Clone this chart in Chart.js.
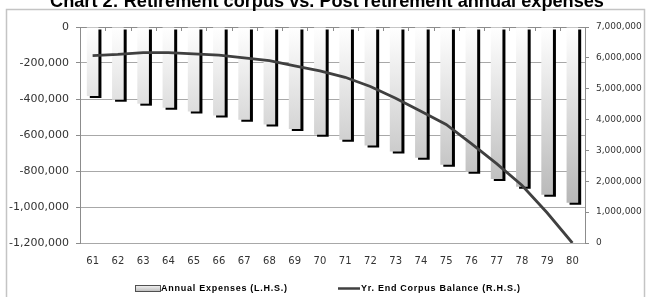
<!DOCTYPE html>
<html><head><meta charset="utf-8">
<script src="https://cdn.jsdelivr.net/npm/chart.js@4.4.0/dist/chart.umd.min.js"></script>
<style>html,body{margin:0;padding:0;background:#fff;overflow:hidden}canvas{display:block}</style>
</head><body>
<canvas id="c" width="648" height="297"></canvas>
<script>
const titleText = "Chart 2: Retirement corpus vs. Post retirement annual expenses";
const ages = ["61","62","63","64","65","66","67","68","69","70","71","72","73","74","75","76","77","78","79","80"];
const annualExpenses = [-384000,-404000,-426000,-448000,-470000,-492000,-515000,-541000,-566000,-598000,-627000,-659000,-692000,-727000,-765000,-804000,-845000,-888000,-932000,-977000];
const corpusBalance = [6070000,6110000,6170000,6170000,6130000,6090000,6000000,5910000,5740000,5580000,5370000,5070000,4690000,4270000,3840000,3220000,2570000,1870000,980000,0];
const seriesLabels = ["Annual Expenses (L.H.S.)","Yr. End Corpus Balance (R.H.S.)"];
const leftAxis = {min:-1200000, max:0, step:200000};
const rightAxis = {min:0, max:7000000, step:1000000};

const fmt = v => Number(v).toLocaleString('en-US');

const decor = {
  id:'decor',
  beforeDatasetsDraw(chart){
    const c = chart.ctx, x = chart.scales.x, a = chart.chartArea;
    c.save();
    c.strokeStyle = '#8c8c8c'; c.lineWidth = 1;
    c.beginPath();
    c.moveTo(a.left, a.top + 0.5); c.lineTo(a.right, a.top + 0.5);
    for (let i = 0; i <= ages.length; i++) {
      const px = Math.round(x.getPixelForValue(i - 0.5)) + 0.5;
      c.moveTo(px, a.top); c.lineTo(px, a.top + 4);
    }
    c.stroke();
    c.restore();
  },
  beforeDatasetDraw(chart, args){
    if (args.index === 0) {
      const c = chart.ctx; c.save();
      c.shadowColor = '#000'; c.shadowOffsetX = 3; c.shadowOffsetY = 2; c.shadowBlur = 0;
    }
  },
  afterDatasetDraw(chart, args){
    if (args.index === 0) chart.ctx.restore();
  },
  afterDraw(chart){
    const c = chart.ctx;
    c.save();
    c.strokeStyle = '#c4c4c4'; c.lineWidth = 1.5;
    c.strokeRect(6.5, 9.5, 638, 300);
    c.fillStyle = '#000';
    c.textAlign = 'center'; c.textBaseline = 'alphabetic';
    let fs = 15;
    c.font = 'bold ' + fs + 'px "Liberation Sans"';
    const w = c.measureText(titleText).width;
    fs = fs * 554 / w;
    c.font = 'bold ' + fs.toFixed(2) + 'px "Liberation Sans"';
    c.fillText(titleText, 327, 6.5);
    const ds = chart.data.datasets;
    c.textAlign = 'left'; c.textBaseline = 'middle';
    const drawSpaced = (txt, x, y, target) => {
      c.font = 'bold 9px "Liberation Sans"';
      c.letterSpacing = '0px';
      const tw = c.measureText(txt).width;
      const ls = (target - tw) / (txt.length - 1);
      c.letterSpacing = ls.toFixed(2) + 'px';
      c.fillStyle = '#000';
      c.fillText(txt, x, y);
      c.letterSpacing = '0px';
    };
    const g = c.createLinearGradient(0, 285, 0, 291);
    g.addColorStop(0, '#f6f6f6'); g.addColorStop(1, '#c0c0c0');
    c.fillStyle = g; c.fillRect(135.5, 285.5, 25, 6);
    c.strokeStyle = '#505050'; c.lineWidth = 1; c.strokeRect(135.5, 285.5, 25, 6);
    drawSpaced(ds[0].label, 161, 288.5, 126);
    c.strokeStyle = '#404040'; c.lineWidth = 2.5;
    c.beginPath(); c.moveTo(338, 288.5); c.lineTo(360, 288.5); c.stroke();
    drawSpaced(ds[1].label, 361, 288.5, 159);
    c.restore();
  }
};

Chart.defaults.font.family = '"DejaVu Sans"';
Chart.defaults.color = '#333';

new Chart(document.getElementById('c'), {
  data: {
    labels: ages,
    datasets: [
      {
        type: 'bar', label: seriesLabels[0], data: annualExpenses, yAxisID: 'y', order: 2,
        backgroundColor(ctx){
          const ch = ctx.chart, a = ch.chartArea;
          if (!a) return '#ccc';
          const g = ch.ctx.createLinearGradient(0, a.top, 0, a.bottom);
          g.addColorStop(0, '#ffffff'); g.addColorStop(1, '#a6a6a6');
          return g;
        },
        borderWidth: 0, barPercentage: 0.46, categoryPercentage: 1
      },
      {
        type: 'line', label: seriesLabels[1], data: corpusBalance, yAxisID: 'y1', order: 1,
        borderColor: '#404040', borderWidth: 2.8, pointRadius: 0, tension: 0, fill: false
      }
    ]
  },
  options: {
    responsive: false, animation: false, devicePixelRatio: 1,
    layout: { padding: { top: 27, left: 0, right: 0, bottom: 0 } },
    plugins: { legend: { display: false }, title: { display: false }, tooltip: { enabled: false } },
    scales: {
      x: {
        grid: { display: false }, border: { display: false },
        ticks: { padding: 4, font: { size: 10 }, maxRotation: 0, autoSkip: false },
        afterFit(s){ s.height = 54; }
      },
      y: {
        position: 'left', min: leftAxis.min, max: leftAxis.max,
        ticks: { stepSize: leftAxis.step, padding: 7, font: { size: 11 }, callback: v => fmt(v) },
        grid: { color: '#a8a8a8', tickLength: 4, drawTicks: true, tickColor: '#8c8c8c' },
        border: { display: true, color: '#8c8c8c' },
        afterFit(s){ s.width = 80; }
      },
      y1: {
        position: 'right', min: rightAxis.min, max: rightAxis.max,
        ticks: { stepSize: rightAxis.step, padding: 7, font: { size: 9 }, callback: v => fmt(v) },
        grid: { drawOnChartArea: false, tickLength: 4, color: '#8c8c8c' },
        border: { display: true, color: '#8c8c8c' },
        afterFit(s){ s.width = 63; }
      }
    }
  },
  plugins: [decor]
});
</script>
</body></html>
